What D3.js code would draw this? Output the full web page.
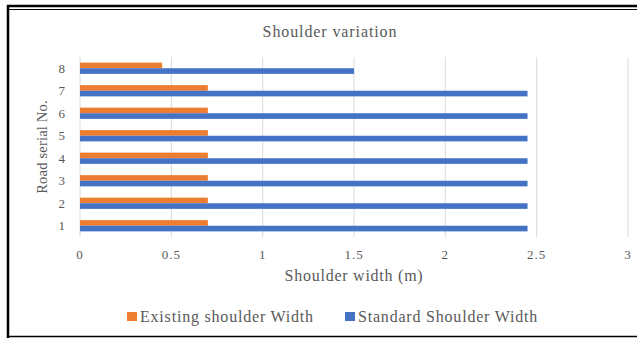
<!DOCTYPE html>
<html>
<head>
<meta charset="utf-8">
<script src="https://cdn.jsdelivr.net/npm/d3@7"></script>
<style>
  body { margin: 0; background: #fff; }
  text { font-family: "Liberation Serif", "Times New Roman", serif; fill: #595959; }
</style>
</head>
<body>
<div id="chart"></div>
<script>
// road numbers, bottom to top
const roads = ['1', '2', '3', '4', '5', '6', '7', '8'];
const existingWidth = [0.7, 0.7, 0.7, 0.7, 0.7, 0.7, 0.7, 0.45];
const standardWidth = [2.45, 2.45, 2.45, 2.45, 2.45, 2.45, 2.45, 1.5];
const xTicks = [0, 0.5, 1, 1.5, 2, 2.5, 3];
const seriesNames = ['Existing shoulder Width', 'Standard Shoulder Width'];
const seriesColors = ['#ed7d31', '#4472c4'];

const size = { width: 637, height: 338 };
const margin = { left: 80, right: 9, top: 57, bottom: 101 };

const svg = d3.select('#chart')
  .append('svg')
  .attr('width', size.width)
  .attr('height', size.height);

// frame around the figure
const frame = svg.append('g').attr('stroke', '#000').attr('fill', 'none');
frame.append('line').attr('x1', 7).attr('x2', 637).attr('y1', 6).attr('y2', 6).attr('stroke-width', 2.5);
frame.append('line').attr('x1', 9).attr('x2', 637).attr('y1', 9.5).attr('y2', 9.5).attr('stroke-width', 1.2);
frame.append('line').attr('x1', 8).attr('x2', 8).attr('y1', 5).attr('y2', 338).attr('stroke-width', 2.5);
frame.append('line').attr('x1', 7).attr('x2', 637).attr('y1', 336.5).attr('y2', 336.5).attr('stroke-width', 1.5);

const x = d3.scaleLinear()
  .domain([0, 3])
  .range([margin.left, size.width - margin.right]);

const y = d3.scaleBand()
  .domain(roads.slice().reverse())
  .range([margin.top, size.height - margin.bottom])
  .paddingInner(0.5)
  .paddingOuter(0.25);

const ySub = d3.scaleBand()
  .domain([0, 1])
  .range([0, y.bandwidth()]);

// title
svg.append('text')
  .attr('x', 330)
  .attr('y', 37)
  .attr('text-anchor', 'middle')
  .style('font-size', '16px')
  .style('letter-spacing', '0.9px')
  .text('Shoulder variation');

// gridlines
svg.append('g')
  .selectAll('line')
  .data(xTicks)
  .join('line')
  .attr('x1', (d) => x(d))
  .attr('x2', (d) => x(d))
  .attr('y1', margin.top)
  .attr('y2', size.height - margin.bottom)
  .attr('stroke', '#d9d9d9')
  .attr('stroke-width', 1);

// x tick labels
svg.append('g')
  .selectAll('text')
  .data(xTicks)
  .join('text')
  .attr('x', (d) => x(d))
  .attr('y', 258.5)
  .attr('text-anchor', 'middle')
  .style('font-size', '13px')
  .style('letter-spacing', '1px')
  .text((d) => d);

// y tick labels
svg.append('g')
  .selectAll('text')
  .data(roads)
  .join('text')
  .attr('x', 65)
  .attr('y', (d) => y(d) + y.bandwidth() / 2 + 4.5)
  .attr('text-anchor', 'end')
  .style('font-size', '13px')
  .text((d) => d);

// bars: existing on top, standard below
const rows = roads.map((r, i) => ({ road: r, values: [existingWidth[i], standardWidth[i]] }));
const groups = svg.append('g')
  .selectAll('g')
  .data(rows)
  .join('g')
  .attr('transform', (d) => `translate(0, ${y(d.road)})`);

groups.selectAll('rect')
  .data((d) => d.values.map((v, k) => ({ v, k })))
  .join('rect')
  .attr('x', x(0))
  .attr('y', (d) => ySub(d.k))
  .attr('width', (d) => x(d.v) - x(0))
  .attr('height', ySub.bandwidth())
  .attr('fill', (d) => seriesColors[d.k]);

// axis titles
svg.append('text')
  .attr('x', (x(0) + x(3)) / 2)
  .attr('y', 280.5)
  .attr('text-anchor', 'middle')
  .style('font-size', '16px')
  .style('letter-spacing', '0.75px')
  .text('Shoulder width (m)');

svg.append('text')
  .attr('transform', `translate(47, ${(margin.top + size.height - margin.bottom) / 2}) rotate(-90)`)
  .attr('text-anchor', 'middle')
  .style('font-size', '14.5px')
  .style('letter-spacing', '0.2px')
  .text('Road serial No.');

// legend
const legendX = [127, 345];
const legend = svg.append('g')
  .selectAll('g')
  .data(seriesNames)
  .join('g')
  .attr('transform', (d, i) => `translate(${legendX[i]}, 312)`);

legend.append('rect')
  .attr('width', 10)
  .attr('height', 9)
  .attr('fill', (d, i) => seriesColors[i]);

legend.append('text')
  .attr('x', 13)
  .attr('y', 9.5)
  .style('font-size', '16px')
  .style('letter-spacing', '0.8px')
  .text((d) => d);
</script>
</body>
</html>
